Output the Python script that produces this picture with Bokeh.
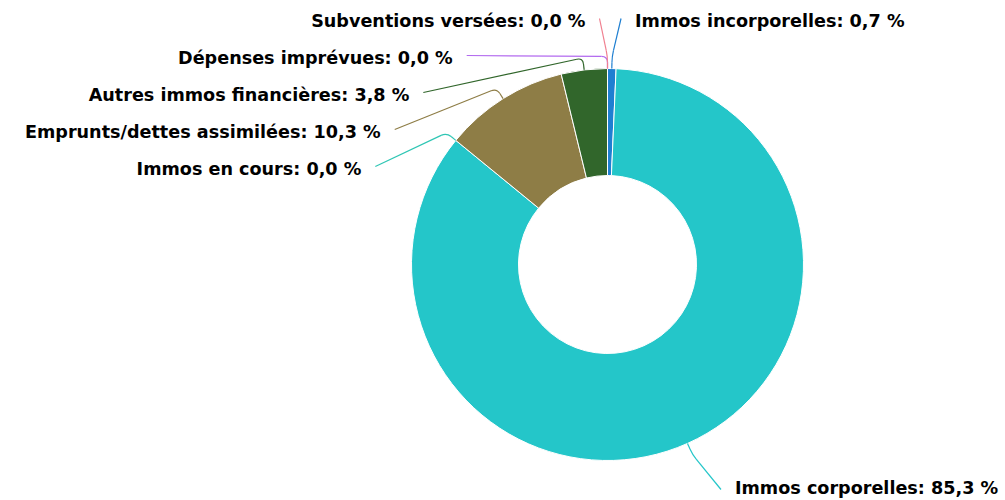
import math
from bokeh.plotting import figure
from bokeh.models import Range1d, ColumnDataSource
from bokeh.embed import file_html
from bokeh.resources import INLINE
from bokeh.core.properties import value

# ---------------- data ----------------
categories = [
    "Immos incorporelles",
    "Immos corporelles",
    "Immos en cours",
    "Emprunts/dettes assimilées",
    "Autres immos financières",
    "Dépenses imprévues",
    "Subventions versées",
]
values = [0.7, 85.3, 0.0, 10.3, 3.8, 0.0, 0.0]
colors = ["#1f7fd1", "#24c6c9", "#2fc6b4", "#8e7d46", "#31662b", "#b36bef", "#f07f8f"]

# ---------------- layout (reference pixel space) ----------------
W, H = 1005, 500
REF_H = 500
CX, CY = 607.0, 264.0
R_OUT, R_IN = 196.0, 89.0
R_LABEL = 252.0
R_BREAK = R_OUT + 12
TOP_B, BOT_B = 18.0, 489.0
TEXT_MAX_Y = 487.0
SLOT = 37.0
GAP_L, GAP_R = 14.0, 14.0
FONT_SIZE = "17.6px"


def Y(py):
    return REF_H - py


p = figure(width=W, height=H,
           x_range=Range1d(0, W),
           y_range=Range1d(REF_H - H, REF_H),
           output_backend="svg", toolbar_location=None, min_border=0)
p.axis.visible = False
p.grid.visible = False
p.outline_line_color = None
p.background_fill_color = "white"
p.border_fill_color = "white"

total = sum(values)
starts, ends = [], []
acc = 0.0
for v in values:
    starts.append(acc / total * 2 * math.pi)
    acc += v
    ends.append(acc / total * 2 * math.pi)

# slices (skip zero values)
ws = dict(x=[], y=[], s=[], e=[], c=[])
for i, v in enumerate(values):
    if v <= 0:
        continue
    ws["x"].append(CX)
    ws["y"].append(Y(CY))
    ws["s"].append(math.pi / 2 - starts[i])
    ws["e"].append(math.pi / 2 - ends[i])
    ws["c"].append(colors[i])
p.annular_wedge(x="x", y="y", inner_radius=R_IN, outer_radius=R_OUT,
                start_angle="s", end_angle="e", direction="clock",
                fill_color="c", line_color="white", line_width=1,
                source=ColumnDataSource(ws))

# ---------------- labels ----------------
items = []
for i, v in enumerate(values):
    mid = (starts[i] + ends[i]) / 2
    side = -1 if mid >= math.pi - 1e-9 else 1
    items.append(dict(i=i, mid=mid, side=side,
                      nx=CX + R_LABEL * math.sin(mid),
                      ny=CY - R_LABEL * math.cos(mid)))


def distribute(group_items):
    groups = [[it] for it in group_items]

    def place(g):
        mean = sum(it["ny"] for it in g) / len(g)
        s = mean - SLOT * (len(g) - 1) / 2
        s = min(s, BOT_B - SLOT * (len(g) - 1))
        s = max(TOP_B, s)
        return s

    changed = True
    while changed:
        changed = False
        st = [place(g) for g in groups]
        for k in range(len(groups) - 1):
            endk = st[k] + SLOT * (len(groups[k]) - 1)
            if st[k + 1] - endk < SLOT:
                groups[k] = groups[k] + groups[k + 1]
                del groups[k + 1]
                changed = True
                break
    for g in groups:
        s = place(g)
        for j, it in enumerate(g):
            it["y"] = s + j * SLOT


left = sorted([it for it in items if it["side"] < 0], key=lambda t: (t["ny"], -t["i"]))
right = sorted([it for it in items if it["side"] > 0], key=lambda t: (t["ny"], t["i"]))
distribute(left)
distribute(right)

for grp in (left, right):
    for k, it in enumerate(grp):
        if k == 0 and it["ny"] < TOP_B:
            it["x"] = it["nx"] + it["side"] * 8
        else:
            dy = it["y"] - CY
            dx = math.sqrt(max(R_LABEL ** 2 - dy ** 2, 0.0))
            it["x"] = CX + it["side"] * dx


def fmt(v):
    return ("%.1f" % v).replace(".", ",") + " %"


lines_x, lines_y, lines_c = [], [], []
qd = dict(x0=[], y0=[], x1=[], y1=[], cx=[], cy=[], c=[])
txt_l = dict(x=[], y=[], t=[])
txt_r = dict(x=[], y=[], t=[])
ROUND = 6.0
for it in items:
    i = it["i"]
    ax, ay = it["x"], it["y"]
    bx = CX + R_BREAK * math.sin(it["mid"])
    by = CY - R_BREAK * math.cos(it["mid"])
    tx = CX + R_OUT * math.sin(it["mid"])
    ty = CY - R_OUT * math.cos(it["mid"])
    d1 = math.hypot(ax - bx, ay - by)
    d2 = math.hypot(tx - bx, ty - by)
    r1 = min(ROUND, d1 / 2)
    r2 = min(ROUND, d2 / 2)
    p1x = bx + (ax - bx) / d1 * r1
    p1y = by + (ay - by) / d1 * r1
    p2x = bx + (tx - bx) / d2 * r2
    p2y = by + (ty - by) / d2 * r2
    lines_x += [[ax, p1x], [p2x, tx]]
    lines_y += [[Y(ay), Y(p1y)], [Y(p2y), Y(ty)]]
    lines_c += [colors[i], colors[i]]
    qd["x0"].append(p1x); qd["y0"].append(Y(p1y))
    qd["x1"].append(p2x); qd["y1"].append(Y(p2y))
    qd["cx"].append(bx); qd["cy"].append(Y(by))
    qd["c"].append(colors[i])
    label = categories[i] + ": " + fmt(values[i])
    text_y = min(ay + 2, TEXT_MAX_Y)
    if it["side"] < 0:
        txt_l["x"].append(ax - GAP_L); txt_l["y"].append(Y(text_y)); txt_l["t"].append(label)
    else:
        txt_r["x"].append(ax + GAP_R); txt_r["y"].append(Y(text_y)); txt_r["t"].append(label)

p.multi_line(xs=lines_x, ys=lines_y, line_color=lines_c, line_width=1.2)
p.quadratic(x0="x0", y0="y0", x1="x1", y1="y1", cx="cx", cy="cy",
            line_color="c", line_width=1.2, source=ColumnDataSource(qd))

for src, align in ((txt_l, "right"), (txt_r, "left")):
    p.text(x="x", y="y", text="t", source=ColumnDataSource(src),
           text_align=align, text_baseline="middle",
           text_font=value("DejaVu Sans"), text_font_style="bold",
           text_font_size=FONT_SIZE, text_color="#000000")

open("out.html", "w").write(file_html(p, INLINE))
